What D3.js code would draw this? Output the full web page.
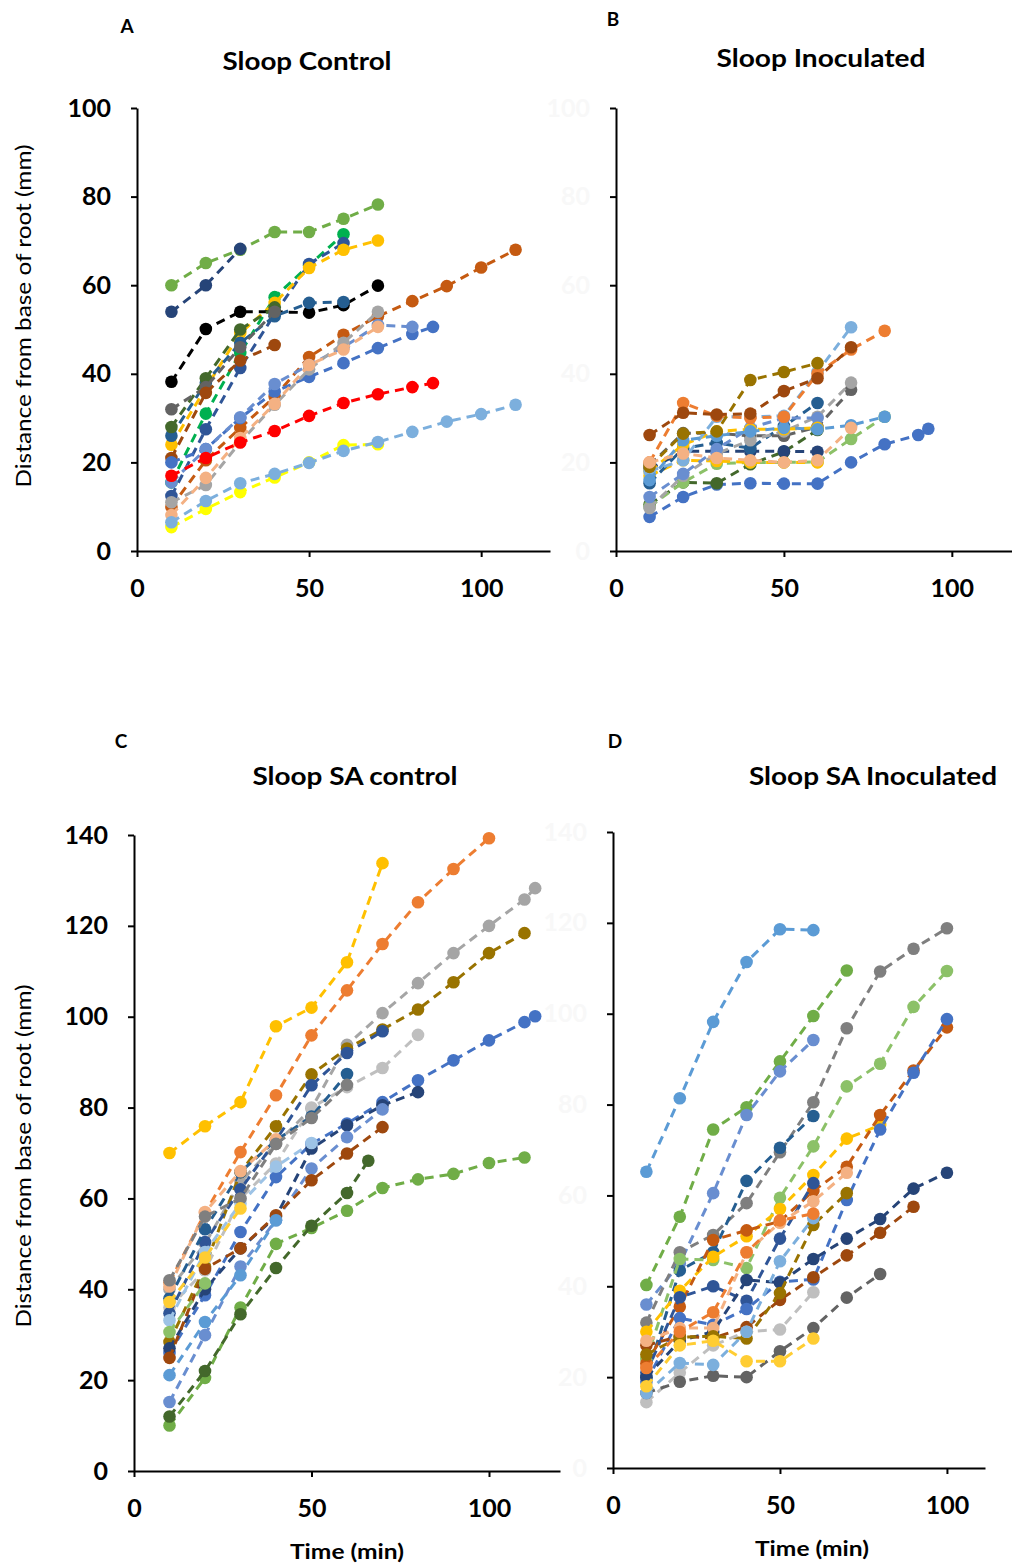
<!DOCTYPE html>
<html>
<head>
<meta charset="utf-8">
<script src="https://cdn.jsdelivr.net/npm/d3@7"></script>
<style>
  body { margin: 0; background: #fff; }
  svg { display: block; }
  text { font-family: Lato, "Open Sans", "DejaVu Sans", sans-serif; }
</style>
</head>
<body>
<svg id="fig" width="1012" height="1565"></svg>
<script>
// ---- Axis ticks and labels ----
const xTickValues = [0, 50, 100];
const yTicks100 = [0, 20, 40, 60, 80, 100];
const yTicks140 = [0, 20, 40, 60, 80, 100, 120, 140];
const panelLetters = ["A", "B", "C", "D"];
const panelTitles = ["Sloop Control", "Sloop Inoculated", "Sloop SA control", "Sloop SA Inoculated"];
const yAxisTitle = "Distance from base of root (mm)";
const xAxisTitle = "Time (min)";

// ---- Root tip distance series: [time (min), distance (mm)] ----
const sloopControl = [
  [[10,60],[20,65],[30,68],[40,72],[50,72],[60,75],[70,78.2]],
  [[10,54],[20,60],[30,68.2]],
  [[10,15.5],[20,31],[30,44.7],[40,57.3],[50,64.5],[60,71.5]],
  [[10,12.4],[20,27.5],[30,41.3],[40,53.5],[50,64.8],[60,69.5]],
  [[10,24],[20,36.8],[30,49.2],[40,56],[50,63.9],[60,68],[70,70.1]],
  [[10,38.2],[20,50.1],[30,54],[40,54],[50,53.8],[60,55.5],[70,59.9]],
  [[10,26],[20,38],[30,47],[40,53],[50,56],[60,56.2]],
  [[10,28],[20,39],[30,50],[40,55]],
  [[10,32],[20,37],[30,46],[40,54]],
  [[10,21],[20,35.7],[30,43],[40,46.5]],
  [[10,10],[20,20.5],[30,27.8],[40,34.8],[50,43.8],[60,48.8],[70,53],[80,56.4],[90,59.8],[100,64],[110,68]],
  [[10,20],[20,23],[30,30],[40,36],[50,39.3],[60,42.4],[70,45.8],[80,49],[86,50.6]],
  [[10,15.5],[20,23],[30,30.2],[40,37.7],[50,42],[60,46],[70,51],[80,50.6]],
  [[10,11],[20,14.9],[30,24.6],[40,33],[50,41],[60,47],[70,54]],
  [[10,8.1],[20,16.5],[30,25.5],[40,33.2],[50,42],[60,45.5],[70,50.6]],
  [[10,17],[20,21],[30,24.5],[40,27.1],[50,30.5],[60,33.4],[70,35.4],[80,37],[86,37.9]],
  [[10,5.4],[20,9.5],[30,13.3],[40,16.6],[50,20],[60,23.9],[70,24.1]],
  [[10,6.5],[20,11.3],[30,15.3],[40,17.4],[50,19.9],[60,22.6],[70,24.6],[80,26.9],[90,29.2],[100,30.9],[110,33]]
];
const sloopControlColors = ["#70AD47","#264478","#00B050","#2F5597","#FFC000","#000000","#255E91","#43682B",
  "#636363","#9E480E","#C55A11","#4472C4","#698ED0","#A5A5A5","#F4B183","#FF0000","#FFFF00","#7CAFDD"];

const sloopInoculated = [
  [[10,7.7],[20,12.2],[30,15],[40,15.3],[50,15.2],[60,15.2],[70,20],[80,24.1],[90,26.2],[93,27.6]],
  [[10,10.5],[20,15.5],[30,15.3],[40,19.6],[50,22.4],[60,27.3]],
  [[10,10],[20,15.5],[30,19.7],[40,20],[50,20],[60,20.1],[70,25.3],[80,30.3]],
  [[10,17],[20,20.5],[30,20.3],[40,20],[50,20],[60,20]],
  [[10,18.5],[20,22.5],[30,22.5],[40,22.5],[50,22.5],[60,22.4]],
  [[10,15.3],[20,23.2],[30,24.4],[40,23.2],[50,28.2],[60,33.4]],
  [[10,19.4],[20,26.6],[30,26.6],[40,26],[50,26],[60,28],[70,36.4]],
  [[10,9.7],[20,17],[30,22],[40,25],[50,27],[60,30.3],[70,38]],
  [[10,12.2],[20,17.4],[30,23],[40,27.8],[50,30],[60,30]],
  [[10,18],[20,24],[30,27],[40,27.5],[50,27.5],[60,27.8]],
  [[10,18],[20,20.5],[30,30.3],[40,30.3],[50,30.5],[60,40.4],[70,50.5]],
  [[10,16],[20,25],[30,26],[40,27],[50,27.8],[60,27.5],[70,28.4],[80,30.3]],
  [[10,20],[20,33.4],[30,30.5],[40,30],[50,30.3],[60,40],[70,45.5],[80,49.7]],
  [[10,26.2],[20,31.2],[30,30.8],[40,31],[50,36.1],[60,39],[70,46]],
  [[10,19],[20,26.5],[30,27],[40,38.6],[50,40.4],[60,42.4]],
  [[10,20],[20,22],[30,21],[40,20.5],[50,20],[60,20.5],[70,27.8]]
];
const sloopInoculatedColors = ["#4472C4","#43682B","#8CC168","#FFC000","#264478","#255E91","#636363","#A5A5A5",
  "#698ED0","#FFC000","#7CAFDD","#5B9BD5","#ED7D31","#9E480E","#997300","#F4B183"];

const sloopSaControl = [
  [[10,70],[20,75.9],[30,81.2],[40,97.9],[50,102],[60,112],[70,133.8]],
  [[10,41.5],[20,56.8],[30,70.2],[40,82.7],[50,95.9],[60,105.8],[70,116],[80,125.2],[90,132.5],[100,139.3]],
  [[10,40],[20,50],[30,63.6],[40,72],[50,79.8],[60,93.8],[70,100.8],[80,107.4],[90,114],[100,120],[110,125.8],[113,128.3]],
  [[10,28.4],[20,45],[30,65.8],[40,75.9],[50,87.3],[60,93],[70,97.2],[80,101.6],[90,107.6],[100,114],[110,118.4]],
  [[10,36],[20,44.2],[30,60],[40,67.7],[50,80],[60,84.5],[70,88.7],[80,96]],
  [[10,26],[20,38.7],[30,52.6],[40,64.7],[50,72],[60,76.5],[70,81.2],[80,86],[90,90.4],[100,94.8],[110,98.8],[113,100.1]],
  [[10,34.7],[20,50.4],[30,62],[40,72.8],[50,84.9],[60,92],[70,96.8]],
  [[10,38],[20,53.2],[30,65.8],[40,72.8],[50,78],[60,87.4]],
  [[10,27],[20,40],[30,49],[40,56],[50,71],[60,76.1],[70,80.5],[80,83.4]],
  [[10,15.2],[20,29.9],[30,45],[40,55.2],[50,66.6],[60,73.5],[70,79.6]],
  [[10,24.9],[20,44.5],[30,49],[40,56.3],[50,64],[60,69.9],[70,75.7]],
  [[10,21.1],[20,32.8],[30,43.1],[40,55.2]],
  [[10,33.2],[20,48.2],[30,58.9],[40,67],[50,72.2]],
  [[10,10],[20,20.5],[30,36],[40,50],[50,53.5],[60,57.3],[70,62.3],[80,64.2],[90,65.4],[100,67.8],[110,69]],
  [[10,12],[20,22],[30,34.5],[40,44.7],[50,54],[60,61.2],[66,68.3]],
  [[10,40.6],[20,57],[30,66],[40,73]],
  [[10,42],[20,56],[30,60],[40,72],[50,77.7],[60,85]],
  [[10,30.6],[20,41.3]],
  [[10,37.2],[20,47],[30,57.8]]
];
const sloopSaControlColors = ["#FFC000","#ED7D31","#A5A5A5","#997300","#BFBFBF","#4472C4","#2F5597","#255E91",
  "#264478","#698ED0","#9E480E","#5B9BD5","#9DC3E6","#70AD47","#43682B","#F4B183","#7F7F7F","#8CC168","#FFCD33"];

const sloopSaInoculated = [
  [[10,65.2],[20,81.4],[30,98.2],[40,111.4],[50,118.6],[60,118.4]],
  [[10,40.3],[20,55.3],[30,74.5],[40,79.4],[50,89.5],[60,99.5],[70,109.5]],
  [[10,36],[20,45],[30,60.5],[40,77.7],[50,87.3],[60,94.2]],
  [[10,32],[20,47.5],[30,51.3],[40,58.3],[50,69.5],[60,80.5],[70,96.8],[80,109.3],[90,114.3],[100,118.8]],
  [[10,20],[20,43.5],[30,47.5],[40,63.2],[50,70.5],[60,77.5]],
  [[10,24],[20,46],[30,45.8],[40,44],[50,59.5],[60,70.8],[70,84],[80,89],[90,101.5],[100,109.4]],
  [[10,30],[20,39],[30,46.5],[40,51],[50,57],[60,64.5],[70,72.5],[80,75.5]],
  [[10,23],[20,35.5],[30,50.2],[40,52.3],[50,54.3],[60,61],[70,66.3],[80,77.7],[90,87.5],[100,97]],
  [[10,21],[20,37.6],[30,40],[40,36.8],[50,50.5],[60,62.7]],
  [[10,19],[20,33],[30,31.5],[40,35],[50,41],[60,41.5],[70,59],[80,74.5],[90,87],[100,98.8]],
  [[10,20],[20,28],[30,30],[40,41.4],[50,40.8],[60,46],[70,50.5],[80,54.8],[90,61.5],[100,65]],
  [[10,27],[20,29],[30,28.6],[40,31],[50,37],[60,42],[70,46.8],[80,51.8],[90,57.5]],
  [[10,28],[20,30.8],[30,30.8],[40,47.5],[50,54],[60,58.7],[70,65]],
  [[10,25],[20,28.8],[30,29],[40,28.5],[50,38.5],[60,53.5],[70,60.5]],
  [[10,14.5],[20,21],[30,27],[40,30],[50,30.5],[60,38.7]],
  [[10,16.5],[20,19],[30,20.3],[40,20],[50,25.7],[60,30.8],[70,37.5],[80,42.7]],
  [[10,16.5],[20,23.1],[30,22.7],[40,30],[50,45.5],[60,55]],
  [[10,18],[20,27],[30,28],[40,23.5],[50,23.5],[60,28.5]],
  [[10,22],[20,30],[30,34.3],[40,47.5],[50,54.5],[60,56]]
];
const sloopSaInoculatedColors = ["#5B9BD5","#70AD47","#698ED0","#7F7F7F","#255E91","#8CC168","#FFC000","#C55A11",
  "#2F5597","#4472C4","#264478","#9E480E","#F4B183","#997300","#BFBFBF","#636363","#7CAFDD","#FFCD33","#ED7D31"];

// ---- Layout of the four panels ----
const svg = d3.select("#fig");

const panels = [
  { series: sloopControl, colors: sloopControlColors, xMax: 120, yMax: 100, yTicks: yTicks100,
    xr: [137, 550], yr: [551, 108], faintY: false,
    letter: [127, 25], title: [307, 60, 169], yTitle: [22, 316], xTitle: null },
  { series: sloopInoculated, colors: sloopInoculatedColors, xMax: 120, yMax: 100, yTicks: yTicks100,
    xr: [616, 1019], yr: [551, 108], faintY: true,
    letter: [613, 18], title: [821, 57, 209], yTitle: null, xTitle: null },
  { series: sloopSaControl, colors: sloopSaControlColors, xMax: 120, yMax: 140, yTicks: yTicks140,
    xr: [134, 560], yr: [1471, 835], faintY: false,
    letter: [121, 740], title: [355, 775, 205], yTitle: [22, 1156], xTitle: [347, 1550] },
  { series: sloopSaInoculated, colors: sloopSaInoculatedColors, xMax: 111.4, yMax: 140, yTicks: yTicks140,
    xr: [613, 985], yr: [1468, 832], faintY: true,
    letter: [615, 740], title: [873, 775, 248], yTitle: null, xTitle: [812, 1547] }
];

panels.forEach((p, i) => {
  const x = d3.scaleLinear().domain([0, p.xMax]).range(p.xr);
  const y = d3.scaleLinear().domain([0, p.yMax]).range(p.yr);
  const g = svg.append("g");

  // y axis
  const ya = g.append("g")
    .attr("transform", `translate(${p.xr[0]},0)`)
    .call(d3.axisLeft(y).tickValues(p.yTicks).tickSize(6).tickSizeOuter(0).tickPadding(20));
  ya.selectAll("text")
    .attr("font-size", 25).attr("font-weight", 700)
    .attr("fill", p.faintY ? "#f8f8f8" : "#000");

  // x axis
  const xa = g.append("g")
    .attr("transform", `translate(0,${p.yr[0]})`)
    .call(d3.axisBottom(x).tickValues(xTickValues).tickSize(6).tickSizeOuter(0).tickPadding(22));
  xa.selectAll("text").attr("font-size", 25).attr("font-weight", 700).attr("fill", "#000");

  [ya, xa].forEach(a => {
    a.select(".domain").attr("stroke", "#000").attr("stroke-width", 2);
    a.selectAll(".tick line").attr("stroke", "#000").attr("stroke-width", 2);
  });

  // series: dashed connecting line, then round markers
  const line = d3.line().x(d => x(d[0])).y(d => y(d[1]));
  p.series.forEach((s, k) => {
    const c = p.colors[k];
    const sg = g.append("g");
    sg.append("path").attr("d", line(s))
      .attr("fill", "none").attr("stroke", c)
      .attr("stroke-width", 3).attr("stroke-dasharray", "9,6");
    sg.selectAll("circle").data(s).join("circle")
      .attr("cx", d => x(d[0])).attr("cy", d => y(d[1]))
      .attr("r", 6.3).attr("fill", c);
  });

  // letter, title, axis titles
  svg.append("text").attr("x", p.letter[0]).attr("y", p.letter[1])
    .attr("text-anchor", "middle").attr("dominant-baseline", "central")
    .attr("font-size", 19).attr("font-weight", 700).text(panelLetters[i]);
  svg.append("text").attr("x", p.title[0]).attr("y", p.title[1])
    .attr("text-anchor", "middle").attr("dominant-baseline", "central")
    .attr("font-size", 25).attr("font-weight", 700)
    .attr("textLength", p.title[2]).attr("lengthAdjust", "spacingAndGlyphs")
    .text(panelTitles[i]);
  if (p.yTitle) {
    svg.append("text")
      .attr("transform", `translate(${p.yTitle[0]},${p.yTitle[1]}) rotate(-90)`)
      .attr("text-anchor", "middle").attr("dominant-baseline", "central")
      .attr("font-size", 21).attr("textLength", 343).attr("lengthAdjust", "spacingAndGlyphs")
      .text(yAxisTitle);
  }
  if (p.xTitle) {
    svg.append("text").attr("x", p.xTitle[0]).attr("y", p.xTitle[1])
      .attr("text-anchor", "middle").attr("dominant-baseline", "central")
      .attr("font-size", 21).attr("font-weight", 700)
      .attr("textLength", 114).attr("lengthAdjust", "spacingAndGlyphs")
      .text(xAxisTitle);
  }
});
</script>
</body>
</html>
